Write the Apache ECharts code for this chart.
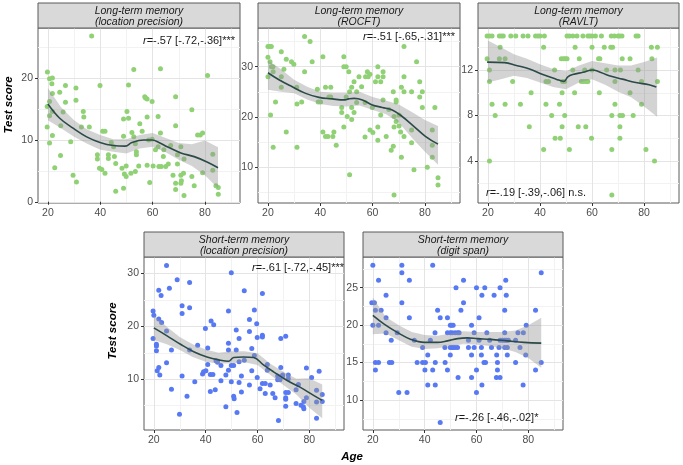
<!DOCTYPE html>
<html><head><meta charset="utf-8">
<script src="https://cdn.jsdelivr.net/npm/echarts@6/dist/echarts.min.js"></script>
<style>html,body{margin:0;padding:0;background:#fff}#c{width:683px;height:465px}</style>
</head><body><div id="c"></div>
<script>
// ---------- data ----------
const xTicks = [20, 40, 60, 80];
const xMinorTicks = [30, 50, 70, 90];
const stripTitles = [
  ['Long-term memory', '(location precision)'],
  ['Long-term memory', '(ROCFT)'],
  ['Long-term memory', '(RAVLT)'],
  ['Short-term memory', '(location precision)'],
  ['Short-term memory', '(digit span)']
];
const annotR = ['=-.57 [-.72,-.36]***', '=-.51 [-.65,-.31]***', '=-.19 [-.39,-.06] n.s.', '=-.61 [-.72,-.45]***', '=-.26 [-.46,-.02]*'];
const yTitle = 'Test score';
const xTitle = 'Age';

const p1YTicks = [0, 10, 20], p1YMinor = [5, 15, 25];
const p2YTicks = [10, 20, 30], p2YMinor = [5, 15, 25, 35];
const p3YTicks = [4, 8, 12], p3YMinor = [2, 6, 10, 14];
const p4YTicks = [10, 20, 30], p4YMinor = [5, 15, 25];
const p5YTicks = [10, 15, 20, 25], p5YMinor = [7.5, 12.5, 17.5, 22.5, 27.5];

const p1Points = [[19.8,21.0],[20.6,19.9],[21.7,20.0],[21.5,19.1],[21.7,17.5],[20.6,16.2],[19.7,15.4],[20.6,13.9],[21.7,14.6],[19.7,12.1],[20.6,9.5],[21.7,10.7],[22.6,5.5],
[24.5,17.7],[24.9,12.3],[24.8,7.5],[25.8,14.5],[26.7,18.8],[26.7,16.1],[28.7,9.7],[29.6,4.3],[30.7,18.4],[30.7,16.4],[30.9,3.2],
[33.5,14.6],[33.7,13.7],[32.8,12.1],[35.8,12.1],[36.7,26.8],[38.9,7.6],[38.9,6.9],[39.9,18.8],[39.7,5.4],[40.6,5.2],[40.9,11.4],[41.8,11.4],[41.8,4.6],[44.2,9.6],[43.1,7.6],[43.1,7.0],[45.1,8.9],[45.4,7.3],[45.9,6.2],[45.9,1.7],[48.3,5.4],[48.9,13.4],[48.9,10.6],[49.2,4.5],[49.9,5.8],[49.9,4.1],[48.9,2.2],[50.2,14.6],[50.8,13.5],[50.8,18.9],[51.7,4.6],[52.1,11.2],[52.8,21.4],[52.8,10.5],[53.4,9.4],[53.4,4.9],[53.8,8.1],[53.8,7.6],[54.7,5.8],[55.1,12.6],[56.0,11.4],[57.0,17.0],[57.3,16.8],[57.9,16.6],[57.9,13.7],[57.9,5.9],[58.5,10.0],[58.9,3.1],[59.8,16.2],[59.8,10.1],[60.2,5.8],[61.1,8.4],[62.1,13.8],[62.1,8.9],[62.4,5.7],[63.0,21.5],[63.0,11.1],[63.3,5.7],[64.1,7.3],[64.3,8.4],[65.0,5.7],[66.0,6.1],[66.9,9.1],[67.8,4.3],[68.8,17.0],[68.8,12.3],[68.8,3.0],[68.8,2.0],[69.5,7.6],[69.5,6.1],[70.8,8.9],[70.8,4.3],[70.8,3.0],[71.0,3.4],[72.0,6.9],[72.0,1.0],[71.8,4.6],[75.0,14.9],[75.0,4.1],[75.9,2.6],[77.2,10.8],[78.2,10.8],[79.1,11.1],[79.1,4.7],[81.0,20.4],[83.0,7.7],[83.0,5.1],[84.2,2.6],[85.1,2.3],[85.1,1.2]];
const p1Fit = [[20,15.8],[24.5,13.5],[29.6,11.9],[34.8,10.5],[39.9,9.6],[45,9.1],[49.6,9.0],[52.1,9.6],[56.6,10.0],[59.8,10.0],[62.4,9.6],[65.6,8.9],[70.8,7.9],[75.9,7.3],[81,6.4],[85,5.5]];
const p1Lo = [[20,13.2],[25,11.9],[30,10.5],[35,9.4],[40,8.4],[45,8.1],[50,7.8],[55,8.6],[60,8.9],[65,8.0],[70,6.8],[75,5.8],[80,4.3],[85,2.2]];
const p1Hi = [[20,18.4],[25,15.3],[30,13.2],[35,11.7],[40,10.8],[45,10.1],[50,10.1],[55,10.8],[60,11.1],[65,10.3],[70,9.5],[75,9.3],[80,9.9],[85,8.8]];

const p2Points = [[20,34.0],[20.8,34.0],[21.3,34.0],[20,31.9],[20.8,31.0],[20,28.0],[21.3,30.0],[21.9,30.0],[22.0,29.0],[21.0,20.4],[22.0,14.0],[22.9,23.0],[25.1,33.0],[25.1,28.0],[25.1,25.9],[26.1,29.5],[27.0,31.5],[27.0,17.0],[29.0,31.0],[29.9,30.5],[31.0,25.9],[31.1,22.6],[31.1,14.0],[32.9,23.0],[34.0,36.0],[34.0,29.0],[36.1,35.0],[36.9,31.0],[38.9,25.5],[39.2,23.0],[40.1,23.0],[41.0,32.0],[41.0,17.0],[42.0,25.9],[42.0,16.1],[42.9,16.1],[43.3,24.0],[44.0,24.0],[44.0,25.9],[44.8,16.1],[45.2,17.0],[46.1,14.4],[48.2,21.9],[48.2,20.9],[49.0,32.0],[49.0,30.0],[49.0,18.0],[49.9,30.0],[49.9,24.0],[50.3,20.1],[50.9,29.0],[51.2,25.0],[51.2,8.5],[52.0,21.9],[52.0,19.5],[52.0,25.9],[52.9,27.0],[52.9,20.9],[53.9,22.9],[53.9,25.0],[54.8,28.0],[55.8,26.0],[57.1,16.0],[57.1,22.9],[57.3,28.0],[58.0,29.0],[58.3,28.0],[59.0,28.5],[59.0,17.4],[59.9,21.9],[60.1,16.9],[61.1,27.0],[62.0,30.0],[62.0,28.0],[62.0,18.0],[62.0,15.4],[63.1,27.0],[63.1,20.4],[64.0,28.0],[64.0,29.0],[64.0,23.4],[65.2,16.1],[66.2,21.5],[67.1,13.4],[67.9,14.2],[67.9,25.0],[68.2,20.1],[68.2,18.0],[68.2,4.5],[69.0,23.4],[69.0,23.0],[69.0,19.1],[70.1,20.4],[70.1,18.2],[70.7,17.0],[71.0,25.9],[71.0,12.0],[72.0,16.1],[72.0,28.0],[72.0,34.0],[72.0,25.0],[74.9,25.0],[74.9,17.4],[74.9,14.9],[75.8,9.5],[76.8,31.0],[78.0,27.0],[78.0,24.0],[79.0,25.0],[79.0,21.9],[80.9,10.0],[82.8,17.4],[82.8,14.4],[82.8,12.0],[83.8,21.9],[85.0,7.9],[85.0,6.5]];
const p2Fit = [[20,28.8],[24.2,27.4],[29.3,26.0],[34.4,24.7],[39.5,23.9],[44.6,23.6],[49,23.4],[50.9,23.6],[52.9,23.7],[56.1,23.4],[59.9,22.4],[63.7,21.9],[67.5,21.4],[71.3,20.1],[75.2,18.4],[80.3,16.1],[85,14.6]];
const p2Lo = [[20,25.4],[25,25.0],[30,24.7],[35,23.5],[40,22.6],[45,22.2],[50,22.1],[55,22.3],[60,21.4],[65,20.6],[70,18.9],[75,15.9],[80,13.1],[85,10.5]];
const p2Hi = [[20,31.3],[25,29.5],[30,27.4],[35,26.0],[40,25.0],[45,24.8],[50,24.8],[55,25.0],[60,24.0],[65,23.3],[70,22.5],[75,21.0],[80,19.4],[85,18.2]];

const p3Points = [
[19.7,15],[20.6,15],[21.6,15],[24.4,15],[25.2,15],[25.9,15],[28.8,15],[30.7,15],[33.5,15],[35.4,15],[38.3,15],[39.2,15],[40.0,15],[41.7,15],[50.4,15],[51.3,15],[52.6,15],[54.2,15],[56.5,15],[58.4,15],[59.1,15],[60.0,15],[61.3,15],[63.6,15],[67.4,15],[68.6,15],[70.0,15],[70.6,15],[71.5,15],[76.9,15],[77.7,15],
[24.7,14],[41.4,14],[53.5,14],[60.0,14],[64.7,14],[67.2,14],[67.9,14],[82.8,14],[85.1,14],
[19.7,13],[24.4,13],[26.6,13],[48.2,13],[49.1,13],[49.7,13],[50.4,13],[55.1,13],[62.5,13],[63.0,13],[71.6,13],[74.6,13],[83.0,13],
[20.6,12],[45.6,12],[52.6,12],[57.2,12],[60.0,12],[65.6,12],[68.8,12],[70.9,12],[77.7,12],
[20.6,11],[29.5,11],[42.3,11],[43.3,11],[48.7,11],[49.5,11],[55.9,11],[56.8,11],[57.7,11],[58.4,11],[68.8,11],[79.0,11],[85.1,11],
[36.6,10],[48.5,10],[53.3,10],[62.8,10],[74.6,10],
[21.6,9],[26.6,9],[32.5,9],[42.3,9],[47.5,9],[68.8,9],[79.0,9],
[22.8,8],[44.5,8],[49.5,8],[67.6,8],[70.7,8],[71.7,8],[75.8,8],
[35.9,7],[48.5,7],[54.7,7],[57.6,7],[70.7,7],
[45.8,6],[47.8,6],[59.8,6],[70.7,6],
[41.4,5],[51.3,5],[67.6,5],[80.7,5],
[20.6,4],[84.0,4],[67.6,1]];
const p3Fit = [[19.7,12.7],[26.4,12.65],[30.9,12.4],[36,12.1],[41.1,11.6],[46.2,11.2],[49.2,11.0],[50.7,11.4],[52.6,11.6],[56.5,11.8],[60.2,12.0],[62.2,11.9],[66.6,11.5],[71.7,11.2],[76.8,10.9],[81.9,10.7],[84.7,10.5]];
const p3Lo = [[20,10.9],[25,11.2],[30,11.5],[35,11.3],[40,10.9],[45,10.5],[50,10.3],[55,10.9],[60,11.2],[65,10.7],[70,10.1],[75,9.6],[80,8.8],[85,7.9]];
const p3Hi = [[20,14.6],[25,14.0],[30,13.4],[35,13.0],[40,12.5],[45,12.1],[50,11.9],[55,12.4],[60,12.8],[65,12.6],[70,12.4],[75,12.4],[80,12.7],[85,13.1]];

const p4Points = [[24.9,31.5],[29.0,28.8],[33.8,28.3],[21.9,26.8],[22.8,25.8],[26.0,27.2],[19.7,22.9],[20.0,22.1],[21.9,21.4],[23.0,20.7],[19.7,17.7],[21.0,16.6],[21.0,16.3],[21.0,15.4],[21.3,11.6],[21.9,12.2],[22.3,10.8],[24.9,19.1],[24.9,13.1],[26.8,15.5],[26.8,8.1],[30.9,23.9],[30.9,22.4],[33.8,23.5],[29.9,3.4],[30.9,10.6],[32.8,6.8],[33.8,15.5],[35.8,9.5],[36.9,16.4],[38.8,11.0],[39.2,11.4],[39.9,19.6],[40.1,11.6],[40.8,15.9],[40.8,12.8],[41.8,10.9],[41.8,7.7],[42.1,21.0],[42.8,10.9],[43.1,20.3],[43.7,8.0],[44.0,13.5],[44.6,13.2],[45.9,9.7],[45.9,12.6],[47.8,4.8],[47.8,10.8],[48.8,22.9],[48.8,16.8],[48.8,15.5],[48.8,11.7],[49.9,30.1],[49.9,12.6],[49.9,9.5],[50.8,12.6],[50.8,6.8],[51.0,6.3],[51.8,19.3],[51.8,15.5],[52.1,3.7],[52.9,17.7],[52.9,13.3],[52.9,9.4],[53.8,7.6],[53.8,10.6],[54.9,26.7],[54.9,13.6],[56.9,21.3],[56.9,19.0],[56.9,8.9],[57.8,15.8],[57.8,11.6],[58.8,23.1],[58.8,14.5],[59.7,20.5],[59.9,17.9],[59.9,10.3],[61.0,8.2],[61.9,26.2],[61.9,18.3],[61.9,18.0],[61.9,9.2],[63.0,9.2],[63.0,7.3],[63.8,12.8],[63.8,11.7],[64.9,8.9],[65.9,7.3],[66.8,6.5],[67.8,10.6],[67.8,9.9],[68.1,2.2],[68.7,9.9],[69.0,17.7],[69.0,12.2],[69.7,10.8],[69.7,10.6],[70.9,18.1],[70.9,7.5],[70.9,6.5],[70.9,6.2],[70.9,4.9],[71.9,10.8],[71.9,10.1],[71.9,7.5],[74.9,8.0],[74.9,5.4],[75.8,9.0],[76.8,5.1],[77.7,4.8],[77.9,4.4],[77.9,5.8],[78.9,12.1],[78.9,6.5],[80.9,10.3],[82.8,7.9],[82.8,5.7],[82.8,2.6],[83.8,11.5],[85.0,7.1],[85.0,5.8]];
const p4Fit = [[20,19.7],[25.1,18.2],[30.3,16.6],[35.4,15.2],[40.5,14.2],[45.6,13.6],[48.8,13.4],[50.8,14.1],[54.6,14.2],[58.5,14.1],[62.3,12.7],[66.2,11.4],[71.3,9.8],[76.4,8.5],[81.5,7.0],[85,6.0]];
const p4Lo = [[20,17.4],[25,16.6],[30,15.5],[35,14.2],[40,13.3],[45,12.9],[50,13.0],[55,13.2],[60,12.7],[65,10.8],[70,8.9],[75,7.1],[80,4.6],[85,2.6]];
const p4Hi = [[20,22.1],[25,19.9],[30,18.0],[35,16.6],[40,15.6],[45,15.0],[50,15.3],[55,15.3],[60,14.9],[65,12.9],[70,11.4],[75,10.1],[80,10.2],[85,9.0]];

const p5Points = [[20.0,28],[31.2,28],[43.1,28],[31.2,27],[85.0,27],[22.2,26],[34.1,26],[55.0,26],[71.3,26],[52.1,25],[60.0,25],[63.2,25],[69.1,25],[25.1,24],[62.1,24],[66.8,24],[71.5,24],[19.6,23],[20.6,23],[31.2,23],[55.0,23],[21.0,22],[23.2,22],[45.0,22],[54.0,22],[70.9,22],[82.8,22],[25.1,21],[34.1,21],[46.0,21],[48.8,21],[61.0,21],[20.0,20],[22.2,20],[49.9,20],[50.4,20],[51.0,20],[58.1,20],[79.2,20],
[25.1,19],[29.4,19],[44.0,19],[48.8,19],[49.9,19],[50.6,19],[51.7,19],[52.7,19],[53.3,19],[59.1,19],[64.0,19],[70.9,19],[76.0,19],[78.1,19],
[27.1,18],[36.0,18],[42.2,18],[56.9,18],[61.0,18],[65.1,18],[69.1,18],[70.0,18],[70.9,18],[71.5,18],[72.3,18],[75.1,18],
[39.2,17],[47.8,17],[49.9,17],[50.4,17],[51.0,17],[51.7,17],[52.7,17],[56.9,17],[59.1,17],[61.9,17],[65.8,17],[68.7,17],[70.9,17],[71.9,17],[76.8,17],
[41.2,16],[49.9,16],[58.1,16],[61.9,16],[67.8,16],[71.9,16],[79.0,16],
[21.0,15],[22.2,15],[26.4,15],[27.3,15],[37.1,15],[39.2,15],[40.3,15],[44.1,15],[47.9,15],[62.9,15],[63.5,15],[68.1,15],[75.1,15],[85.0,15],
[21.0,14],[40.1,14],[43.1,14],[48.8,14],[60.0,14],[68.1,14],[82.8,14],
[52.9,13],[58.1,13],[67.7,13],[69.1,13],[41.2,12],[44.1,12],[62.1,12],[78.0,12],[30.0,11],[33.2,11],[60.0,11],[46.0,7]];
const p5Fit = [[20,21.3],[24.5,20.1],[29.6,19.0],[34.7,18.1],[39.9,17.7],[45,17.7],[48.8,17.9],[52.7,18.2],[56.5,18.3],[60.4,18.2],[65.5,18.1],[71.9,17.9],[78.3,17.7],[85,17.6]];
const p5Lo = [[20,18.8],[25,18.9],[30,18.0],[35,17.1],[40,16.8],[45,16.9],[50,17.2],[55,17.5],[60,17.4],[65,17.2],[70,16.9],[75,16.4],[80,15.6],[85,14.3]];
const p5Hi = [[20,23.7],[25,21.1],[30,20.0],[35,19.1],[40,18.7],[45,18.6],[50,18.9],[55,19.2],[60,19.1],[65,19.1],[70,19.1],[75,19.3],[80,20.0],[85,21.0]];

// ---------- layout / style ----------
const GREEN = '#8fd174', BLUE = '#5779f3';
const panels = [
  {g:{left:38, top:28, width:202, height:175}, xr:[16.2,93.4], yr:[-0.2,28.1], yt:p1YTicks, ym:p1YMinor, pts:p1Points, fit:p1Fit, lo:p1Lo, hi:p1Hi, col:GREEN, ann:{x:143,y:41}},
  {g:{left:258, top:28, width:202, height:175}, xr:[16.2,93.4], yr:[2.9,37.7], yt:p2YTicks, ym:p2YMinor, pts:p2Points, fit:p2Fit, lo:p2Lo, hi:p2Hi, col:GREEN, ann:{x:363,y:37}},
  {g:{left:478, top:28, width:201, height:175}, xr:[16.2,93.4], yr:[0.3,15.7], yt:p3YTicks, ym:p3YMinor, pts:p3Points, fit:p3Fit, lo:p3Lo, hi:p3Hi, col:GREEN, ann:{x:486,y:193}},
  {g:{left:144, top:257, width:200, height:173}, xr:[16.2,93.4], yr:[0.4,33.1], yt:p4YTicks, ym:p4YMinor, pts:p4Points, fit:p4Fit, lo:p4Lo, hi:p4Hi, col:BLUE, ann:{x:252,y:268}},
  {g:{left:363, top:257, width:200, height:173}, xr:[16.2,93.4], yr:[6.0,29.1], yt:p5YTicks, ym:p5YMinor, pts:p5Points, fit:p5Fit, lo:p5Lo, hi:p5Hi, col:BLUE, ann:{x:455,y:418}}
];
const FONT = '"Liberation Sans", Arial, Helvetica, sans-serif';
const grid = [], xAxis = [], yAxis = [], series = [], graphic = [];
panels.forEach((p, i) => {
  grid.push(Object.assign({show:true, borderColor:'#5a5a5a', borderWidth:1, backgroundColor:'#fff', containLabel:false}, p.g));
  const axisStyle = (vals, show) => ({
    axisLine:{show:false},
    axisTick:{show:show, customValues:vals, length:3, lineStyle:{color:'#333'}},
    axisLabel:{show:show, customValues:vals, color:'#4d4d4d', fontSize:10.5, fontFamily:FONT, margin:5},
    splitLine:{show:true, lineStyle:{color: show ? '#e4e4e4' : '#f2f2f2', width:1}}
  });
  xAxis.push(Object.assign({type:'value', gridIndex:i, min:p.xr[0], max:p.xr[1], position:'bottom', z:2}, axisStyle(xTicks, true)));
  xAxis.push(Object.assign({type:'value', gridIndex:i, min:p.xr[0], max:p.xr[1], position:'top', z:1}, axisStyle(xMinorTicks, false)));
  yAxis.push(Object.assign({type:'value', gridIndex:i, min:p.yr[0], max:p.yr[1], position:'left', z:2}, axisStyle(p.yt, true)));
  yAxis.push(Object.assign({type:'value', gridIndex:i, min:p.yr[0], max:p.yr[1], position:'right', z:1}, axisStyle(p.ym, false)));
  const xi = 2*i, yi = 2*i;
  series.push({type:'scatter', xAxisIndex:xi, yAxisIndex:yi, data:p.pts, symbolSize:5, itemStyle:{color:p.col, opacity:1}, z:2, silent:true});
  // confidence band as a polygon through the axis scales
  const lo = p.lo, hi = p.hi;
  series.push({type:'custom', xAxisIndex:xi, yAxisIndex:yi, data:[lo[0]], z:3, silent:true,
    renderItem: (params, api) => {
      const pts = lo.map(d => api.coord(d)).concat(hi.slice().reverse().map(d => api.coord(d)));
      return {type:'polygon', shape:{points:pts}, style:{fill:'rgba(150,150,150,0.42)', stroke:null}};
    }});
  series.push({type:'line', xAxisIndex:xi, yAxisIndex:yi, data:p.fit, symbol:'none', smooth:0.4, lineStyle:{color:'#2b4a48', width:1.6}, z:4, silent:true});
  // strip
  const g = p.g;
  graphic.push({type:'rect', shape:{x:g.left, y:g.top-25, width:g.width, height:25}, style:{fill:'#d9d9d9', stroke:'#5a5a5a', lineWidth:1}, z:10});
  graphic.push({type:'text', x:g.left+g.width/2, y:g.top-11.5, style:{text:stripTitles[i].join('\n'), font:'italic 10.5px ' + FONT, fill:'#1a1a1a', align:'center', verticalAlign:'middle', lineHeight:10.5}, z:11});
  // annotation
  graphic.push({type:'text', x:p.ann.x, y:p.ann.y, style:{text:'{i|r}' + annotR[i], fontSize:11, fontFamily:FONT, fill:'#1a1a1a', verticalAlign:'middle', rich:{i:{fontStyle:'italic', fontSize:11, fontFamily:FONT, fill:'#1a1a1a'}}}, z:11});
});
graphic.push({type:'text', x:9, y:105, rotation:Math.PI/2, style:{text:yTitle, font:'italic bold 11.5px ' + FONT, fill:'#000', align:'center', verticalAlign:'middle'}, z:11});
graphic.push({type:'text', x:113, y:331, rotation:Math.PI/2, style:{text:yTitle, font:'italic bold 11.5px ' + FONT, fill:'#000', align:'center', verticalAlign:'middle'}, z:11});
graphic.push({type:'text', x:352, y:457, style:{text:xTitle, font:'italic bold 11.5px ' + FONT, fill:'#000', align:'center', verticalAlign:'middle'}, z:11});

const chart = echarts.init(document.getElementById('c'), null, {renderer:'canvas'});
chart.setOption({animation:false, backgroundColor:'#fff', grid, xAxis, yAxis, series, graphic});
</script></body></html>
